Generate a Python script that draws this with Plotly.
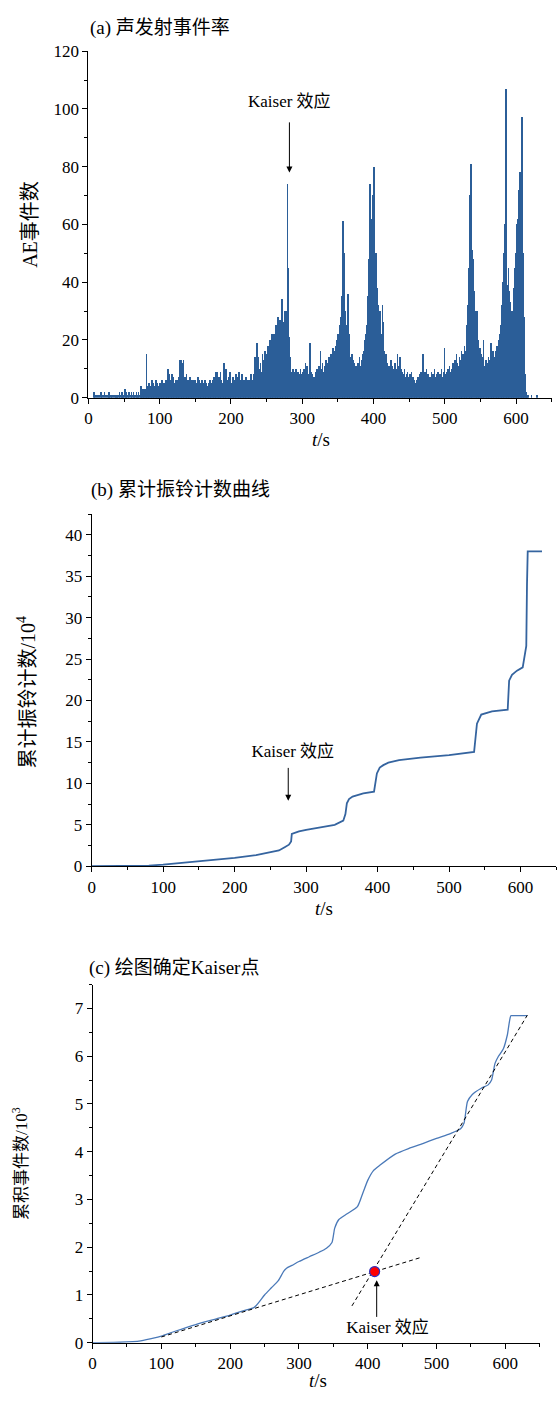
import plotly.graph_objects as go

# ---------------- Data ----------------
# (a) AE event rate, one value per second starting at t = 0
ae_rate = [
    0,0,0,0,0,0,0,0,2,0,
    1,0,0,1,0,1,0,0,2,1,
    0,1,0,2,0,1,0,0,1,2,
    2,0,1,1,0,1,0,0,1,1,
    0,1,1,0,2,1,0,1,2,1,
    1,0,3,1,2,1,0,1,2,0,
    1,2,1,0,2,1,1,0,2,1,
    1,2,0,1,4,2,1,3,2,1,
    3,2,15,3,4,1,5,3,4,2,
    6,3,5,2,4,6,3,5,2,4,
    3,5,4,2,6,4,3,5,4,6,
    5,4,10,3,8,5,6,4,8,3,
    7,5,4,6,3,5,6,4,7,13,
    5,13,12,6,13,4,7,5,8,6,
    4,6,5,7,3,5,6,4,5,6,
    3,6,4,5,7,4,6,5,3,5,
    6,4,5,3,6,4,5,3,4,5,
    4,6,3,5,4,6,5,7,4,9,
    5,9,6,4,7,5,9,6,4,5,
    6,12,5,8,10,6,4,7,5,9,
    6,4,5,7,3,6,4,5,8,6,
    7,4,9,5,6,4,8,5,3,6,
    5,4,7,3,6,5,4,6,5,8,
    4,6,5,8,14,12,10,19,8,14,
    10,8,12,6,9,15,10,13,16,8,
    12,15,10,18,14,20,12,16,22,15,
    18,22,16,20,25,18,22,28,20,27,
    24,20,34,22,26,18,30,22,28,30,
    74,45,21,14,10,8,9,7,10,8,
    9,6,10,8,7,9,6,8,10,7,
    8,6,9,10,7,12,8,11,9,6,
    8,19,7,9,6,8,5,7,6,9,
    7,10,8,6,11,9,16,8,10,12,
    9,7,11,8,13,10,9,12,14,10,
    12,15,11,14,17,13,16,18,15,20,
    18,22,17,25,20,28,35,45,61,50,
    42,30,25,20,18,36,22,16,14,12,
    15,10,13,9,12,8,11,10,9,12,
    10,14,11,9,13,15,12,16,18,20,
    22,25,30,35,48,64,74,62,60,50,
    70,80,55,45,50,38,30,32,28,25,
    30,22,20,32,26,16,14,12,15,10,
    12,9,11,8,10,13,9,11,10,8,
    9,12,8,10,15,9,11,8,14,10,
    7,9,6,8,10,7,5,8,9,6,
    7,5,8,6,9,4,7,5,6,3,
    5,6,4,7,5,8,6,9,5,7,
    15,8,5,9,7,10,6,8,6,5,
    7,6,9,5,8,6,10,7,5,8,
    6,9,7,5,8,6,10,7,6,9,
    17,8,6,9,7,10,8,11,9,7,
    10,8,12,9,11,13,10,15,12,9,
    11,14,10,13,16,12,15,11,18,14,
    16,20,25,32,45,60,70,81,75,51,
    48,40,37,30,25,22,30,20,18,15,
    17,13,15,14,12,20,11,10,13,9,
    12,10,14,11,13,19,15,12,16,10,
    14,12,16,13,18,15,20,17,22,25,
    28,32,40,45,50,60,107,50,39,37,
    45,37,33,30,28,22,30,25,38,45,
    50,60,55,62,69,72,78,60,85,97,
    50,30,28,8,2,1,1,1,0,0,
    0,0,1,0,0,0,0,0,0,0,
    1,0,
]
ae_t = list(range(len(ae_rate)))

# (b) cumulative ring-down count (x10^4)
ring_t = [0, 50, 80, 100, 130, 150, 180, 200, 230, 250, 262, 270, 276, 279, 280,
          290, 300, 320, 340, 352, 355, 357, 360, 365, 380, 395, 397, 399, 403, 408,
          415, 430, 460, 500, 535, 537, 539, 545, 560, 582, 584, 588, 595, 603, 606,
          608, 609, 610, 630]
ring_v = [0, 0.02, 0.08, 0.2, 0.45, 0.65, 0.82, 1.0, 1.35, 1.65, 1.9, 2.3, 2.6, 3.0, 3.9,
          4.2, 4.4, 4.7, 5.0, 5.5, 6.3, 7.6, 8.1, 8.4, 8.8, 9.0, 10.3, 11.2, 11.9, 12.2,
          12.5, 12.8, 13.1, 13.4, 13.8, 15.5, 17.2, 18.3, 18.7, 18.9, 22.4, 23.1, 23.6, 24.0, 25.5,
          26.6, 34.0, 38.0, 38.0]

# (c) cumulative AE events (x10^3)
evt_t = [0, 40, 70, 90, 100, 120, 150, 180, 200, 220, 235, 242, 250, 260, 270, 278,
         282, 290, 300, 315, 330, 340, 348, 352, 358, 370, 385, 392, 400, 408, 418,
         440, 460, 480, 500, 520, 535, 540, 545, 552, 565, 575, 580, 585, 590, 597,
         603, 608, 611, 632]
evt_v = [0, 0.01, 0.04, 0.1, 0.14, 0.24, 0.38, 0.5, 0.58, 0.67, 0.74, 0.85, 1.0, 1.15, 1.3, 1.5,
         1.56, 1.62, 1.7, 1.8, 1.9, 1.98, 2.1, 2.4, 2.58, 2.7, 2.85, 3.1, 3.4, 3.6, 3.72,
         3.95, 4.07, 4.17, 4.28, 4.38, 4.48, 4.6, 5.05, 5.2, 5.33, 5.4, 5.5, 5.85, 6.0, 6.15,
         6.45, 6.85, 6.85, 6.85]

# dashed fit lines in (c)
fit1_t = [100, 476]
fit1_v = [0.12, 1.78]
fit2_t = [377, 632]
fit2_v = [0.77, 6.86]
kaiser_t = [410]
kaiser_v = [1.49]

# ---------------- Styling ----------------
FONT = "Times New Roman, Liberation Serif, Noto Sans CJK SC, serif"
BAR_COLOR = "#2b5e98"
LINE_B = "#35649f"
LINE_C = "#4a79b8"

fig = go.Figure()

fig.add_trace(go.Bar(x=ae_t, y=ae_rate, width=1,
                     marker=dict(color=BAR_COLOR, line=dict(width=0)),
                     xaxis="x", yaxis="y", showlegend=False))
fig.add_trace(go.Scatter(x=ring_t, y=ring_v, mode="lines", line=dict(color=LINE_B, width=1.8),
                         xaxis="x2", yaxis="y2", showlegend=False))
fig.add_trace(go.Scatter(x=evt_t, y=evt_v, mode="lines", line=dict(color=LINE_C, width=1.3, shape="spline", smoothing=0.6),
                         xaxis="x3", yaxis="y3", showlegend=False))
fig.add_trace(go.Scatter(x=fit1_t, y=fit1_v, mode="lines", line=dict(color="black", width=1, dash="4px,3px"),
                         xaxis="x3", yaxis="y3", showlegend=False))
fig.add_trace(go.Scatter(x=fit2_t, y=fit2_v, mode="lines", line=dict(color="black", width=1, dash="4px,3px"),
                         xaxis="x3", yaxis="y3", showlegend=False))
fig.add_trace(go.Scatter(x=kaiser_t, y=kaiser_v, mode="markers",
                         marker=dict(color="#ff0000", size=10, line=dict(color="#3030c0", width=1.2)),
                         xaxis="x3", yaxis="y3", showlegend=False))

H = 1404
W = 557

def xax(domain, anchor):
    return dict(domain=domain, anchor=anchor, range=[0, 650], showline=True, linecolor="black", linewidth=1,
                ticks="outside", ticklen=5, tickwidth=1, tickcolor="black", dtick=100, tick0=0,
                minor=dict(ticks="outside", ticklen=3, dtick=50, tickcolor="black"),
                showgrid=False, zeroline=False, tickfont=dict(family=FONT, size=17, color="black"))

def yax(domain, anchor, rng, dtick):
    return dict(domain=domain, anchor=anchor, range=rng, showline=True, linecolor="black", linewidth=1,
                ticks="outside", ticklen=5, tickwidth=1, tickcolor="black", dtick=dtick, tick0=0,
                minor=dict(ticks="outside", ticklen=3, dtick=dtick / 2, tickcolor="black"),
                showgrid=False, zeroline=False, tickfont=dict(family=FONT, size=17, color="black"))

fig.update_layout(
    width=W, height=H, margin=dict(l=0, r=0, t=0, b=0),
    paper_bgcolor="white", plot_bgcolor="white", bargap=0,
    xaxis=xax([85 / W, 551.7 / W], "y"),
    yaxis=yax([1 - 394 / H, 1 - 42.7 / H], "x", [0, 120], 20),
    xaxis2=xax([88.3 / W, 556.3 / W], "y2"),
    yaxis2=yax([1 - 869 / H, 1 - 512 / H], "x2", [0, 42.5], 5),
    xaxis3=xax([89.2 / W, 539.6 / W], "y3"),
    yaxis3=yax([1 - 1352 / H, 1 - 989 / H], "x3", [0, 7.5], 1),
    font=dict(family=FONT, color="black"),
)

ann = []
def ptext(text, xpx, ypx, size, xanchor="center", angle=0):
    ann.append(dict(text=text, x=xpx / W, y=1 - ypx / H, xref="paper", yref="paper", showarrow=False,
                    xanchor=xanchor, yanchor="middle", textangle=angle,
                    font=dict(family=FONT, size=size, color="black")))

ptext("(a) 声发射事件率", 85, 19, 19, xanchor="left")
ptext("(b) 累计振铃计数曲线", 86, 488, 19, xanchor="left")
ptext("(c) 绘图确定Kaiser点", 84, 972, 19, xanchor="left")

ptext("AE事件数", 26, 218, 20, angle=-90)
ptext("累计振铃计数/10<sup>4</sup>", 22, 692, 20, angle=-90)
ptext("累积事件数/10<sup>3</sup>", 16, 1170, 17, angle=-90)

ptext("<i>t</i>/s", 319, 436, 19)
ptext("<i>t</i>/s", 322, 912, 19)
ptext("<i>t</i>/s", 316, 1390, 19)

# Kaiser labels: text at the arrow tail, arrow pointing to the head (data coords)
def kaiser(xr, yr, x, y, ax, ay, pad, startoff):
    ann.append(dict(text="&nbsp;" * pad + "Kaiser 效应", x=x, y=y, ax=ax, ay=ay,
                    xref=xr, yref=yr, axref=xr, ayref=yr, showarrow=True,
                    arrowhead=2, arrowsize=1.2, arrowwidth=1, arrowcolor="black",
                    standoff=0, startstandoff=startoff,
                    font=dict(family=FONT, size=17, color="black")))

kaiser("x", "y", 282, 78, 282, 102.6, 0, 10)
kaiser("x2", "y2", 275, 7.9, 275, 13.8, 2, 5)
kaiser("x3", "y3", 413, 1.31, 413, 0.31, 5, 0)

fig.update_layout(annotations=ann)

fig.write_html("out.html")
